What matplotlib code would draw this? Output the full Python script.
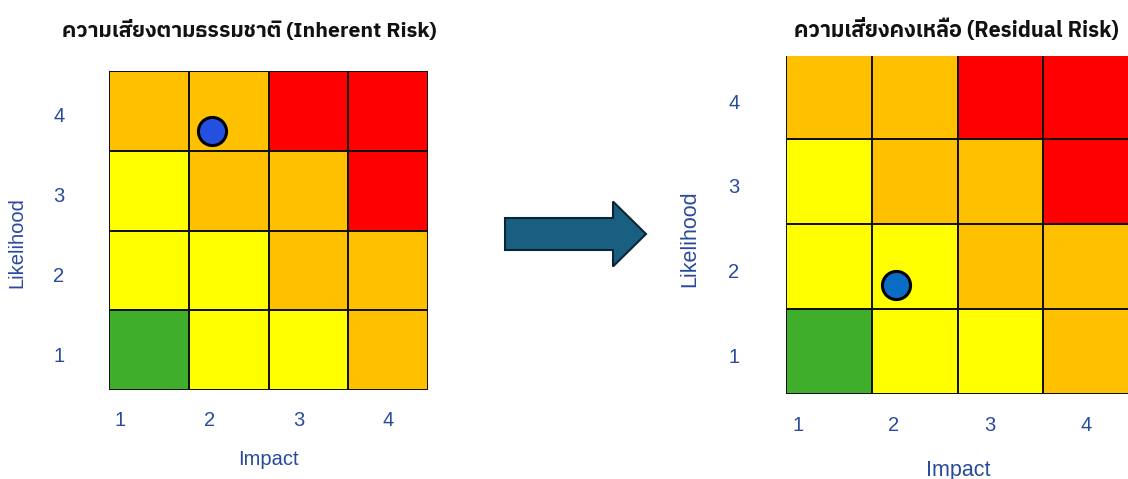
import matplotlib
matplotlib.use("Agg")
import matplotlib.pyplot as plt
import numpy as np
from matplotlib.colors import ListedColormap
from matplotlib.patches import FancyArrow

# Risk matrix data
impact_labels = ["1", "2", "3", "4"]
likelihood_labels = ["1", "2", "3", "4"]
level_colors = ["#3FAE2A", "#FFFF00", "#FFC000", "#FF0000"]  # low, medium, high, extreme

# rows = likelihood 1..4 (bottom to top), columns = impact 1..4
risk_levels = [
    [0, 1, 1, 2],
    [1, 1, 2, 2],
    [1, 2, 2, 3],
    [2, 2, 3, 3],
]

inherent_point = (1.79, 3.75)   # (impact, likelihood)
residual_point = (1.78, 1.78)

titles = ["ความเสี่ยงตามธรรมชาติ (Inherent Risk)", "ความเสี่ยงคงเหลือ (Residual Risk)"]

W, H = 1128, 479
fig = plt.figure(figsize=(W / 100, H / 100), dpi=100)
fig.patch.set_facecolor("white")

label_color = "#2A4A9E"
tick_font = ["Liberation Sans", "DejaVu Sans"]
title_font = ["IBM Plex Sans Thai", "Noto Sans Thai", "DejaVu Sans"]

cmap = ListedColormap(level_colors)


def px_axes(left, top, right, bottom):
    return fig.add_axes([left / W, 1 - bottom / H, (right - left) / W, (bottom - top) / H])


def draw_matrix(ax, point, dot_color, ytop, ypad, xpad, fsize, xlabel_xy, ylabel_xy, lab_size):
    edges = np.arange(0.5, 5.0, 1.0)
    ax.pcolormesh(edges, edges, np.array(risk_levels), cmap=cmap, vmin=-0.5, vmax=3.5,
                  edgecolors="#111111", linewidth=1.1)
    ax.scatter([point[0]], [point[1]], s=410, color=dot_color, edgecolors="black",
               linewidths=2.2, zorder=5)
    ax.set_xlim(0.5, 4.5)
    ax.set_ylim(0.5, ytop)
    for s in ax.spines.values():
        s.set_visible(False)
    centers = np.arange(1, 5)
    # impact labels are spread a little wider than the cells, anchored on the last one
    xpos = centers[-1] - 1.12 * (centers[-1] - centers)
    ax.set_xticks(xpos, impact_labels)
    ax.set_yticks(centers - 0.05, likelihood_labels)
    ax.tick_params(length=0, labelcolor=label_color, labelsize=fsize)
    ax.tick_params(axis="x", pad=xpad)
    ax.tick_params(axis="y", pad=ypad)
    for t in ax.get_xticklabels() + ax.get_yticklabels():
        t.set_fontfamily(tick_font)
    ax.set_xlabel("Impact", color=label_color, fontsize=lab_size, family=tick_font)
    ax.xaxis.set_label_coords(*xlabel_xy)
    ax.xaxis.label.set_va("center")
    ax.set_ylabel("Likelihood", color=label_color, fontsize=lab_size, family=tick_font)
    ax.yaxis.set_label_coords(*ylabel_xy)
    ax.yaxis.label.set_va("center")


ax1 = px_axes(109, 71, 428, 390)
draw_matrix(ax1, inherent_point, "#2350E0", 4.5, 32, 15, 14.5,
            (0.50, -0.219), (-0.288, 0.461), 14.5)

ax2 = px_axes(786, 56, 1129, 394)
draw_matrix(ax2, residual_point, "#0A6CC4", 4.48, 33.5, 16, 14.5,
            (0.501, -0.225), (-0.28, 0.459), 15.5)

fig.text(249 / W, 1 - 30 / H, titles[0], ha="center", va="center", fontsize=15.3,
         fontweight="bold", family=title_font, color="#111111")
fig.text(956 / W, 1 - 30 / H, titles[1], ha="center", va="center", fontsize=15.5,
         fontweight="bold", family=title_font, color="#111111")

# transition arrow between the two matrices
overlay = fig.add_axes([0, 0, 1, 1], facecolor="none")
overlay.set_xlim(0, W)
overlay.set_ylim(H, 0)
overlay.axis("off")
overlay.add_patch(FancyArrow(505, 234, 141, 0, width=32, head_width=65, head_length=33,
                             length_includes_head=True, facecolor="#195F82",
                             edgecolor="#0B2535", linewidth=1.5))

fig.savefig("out.png", dpi=100)
